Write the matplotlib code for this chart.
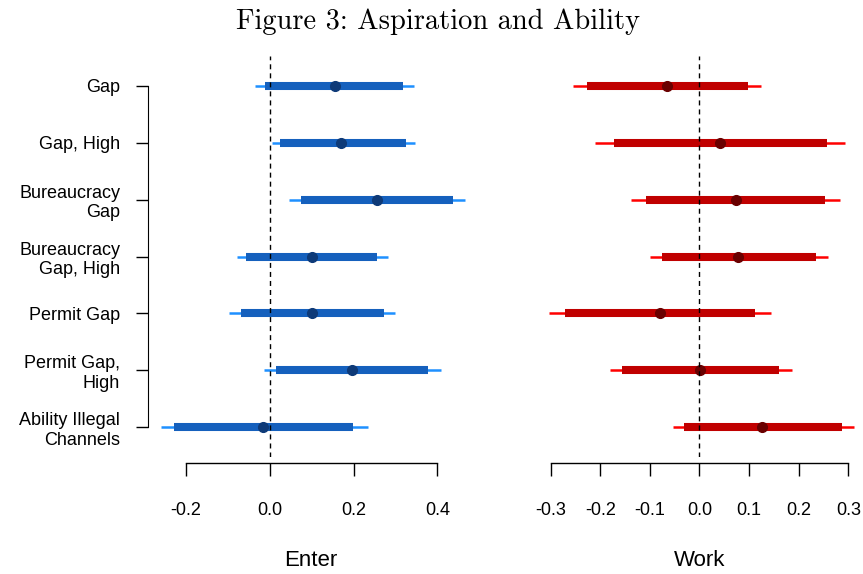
import matplotlib
matplotlib.use("Agg")
import matplotlib.pyplot as plt

# --- data ---
labels = ["Gap", "Gap, High", "Bureaucracy\nGap", "Bureaucracy\nGap, High",
          "Permit Gap", "Permit Gap,\nHigh", "Ability Illegal\nChannels"]

enter_est = [0.155, 0.171, 0.256, 0.100, 0.100, 0.196, -0.016]
enter_lo90 = [-0.012, 0.024, 0.074, -0.057, -0.069, 0.014, -0.229]
enter_hi90 = [0.317, 0.325, 0.438, 0.256, 0.272, 0.378, 0.199]
enter_lo95 = [-0.036, 0.004, 0.046, -0.079, -0.098, -0.015, -0.260]
enter_hi95 = [0.344, 0.347, 0.465, 0.282, 0.299, 0.408, 0.235]

work_est = [-0.066, 0.041, 0.073, 0.078, -0.079, 0.001, 0.126]
work_lo90 = [-0.227, -0.173, -0.108, -0.075, -0.271, -0.156, -0.031]
work_hi90 = [0.098, 0.258, 0.253, 0.234, 0.112, 0.161, 0.287]
work_lo95 = [-0.255, -0.210, -0.138, -0.100, -0.303, -0.180, -0.054]
work_hi95 = [0.125, 0.294, 0.283, 0.260, 0.144, 0.186, 0.311]

enter_ticks = [-0.2, 0.0, 0.2, 0.4]
work_ticks = [-0.3, -0.2, -0.1, 0.0, 0.1, 0.2, 0.3]

W, H = 863, 574
fig = plt.figure(figsize=(W / 100, H / 100), dpi=100)

SANS = ["Liberation Sans", "DejaVu Sans"]


def px_axes(x0, x1, y0, y1):
    return fig.add_axes([x0 / W, 1 - y1 / H, (x1 - x0) / W, (y1 - y0) / H])


def panel(ax, est, lo90, hi90, lo95, hi95, thin, thick, dot, xlim, ticks):
    rows = list(range(1, len(est) + 1))
    for r, e, a, b, c, d in zip(rows, est, lo90, hi90, lo95, hi95):
        ax.plot([c, d], [r, r], color=thin, lw=1.8, solid_capstyle="butt", zorder=2)
        ax.plot([a, b], [r, r], color=thick, lw=5.8, solid_capstyle="butt", zorder=3)
        ax.plot([e], [r], "o", color=dot, ms=7, mec=dot, zorder=4)
    ax.axvline(0, color="black", lw=1.0, ls=(0, (3.6, 2.9)), zorder=5)
    ax.set_xlim(*xlim)
    ax.set_ylim(7.53, 0.48)
    for s in ["top", "right"]:
        ax.spines[s].set_visible(False)
    ax.spines["bottom"].set_bounds(ticks[0], ticks[-1])
    ax.spines["bottom"].set_position(("outward", 4))
    ax.spines["bottom"].set_linewidth(1.0)
    ax.set_xticks(ticks)
    ax.set_xticklabels([f"{t:.1f}" for t in ticks], family=SANS, fontsize=13)
    ax.tick_params(axis="x", length=9.6, width=1.0, pad=18.5)
    ax.set_facecolor("none")
    return rows


ax1 = px_axes(148, 475, 56.4, 457.4)
rows = panel(ax1, enter_est, enter_lo90, enter_hi90, enter_lo95, enter_hi95,
             "#1E90FF", "#1560BD", "#0E3A78", (-0.291, 0.490), enter_ticks)
ax1.spines["left"].set_bounds(1, 7)
ax1.set_yticks(rows)
ax1.set_yticklabels(labels, family=SANS, fontsize=13, ha="right", multialignment="right")
ax1.tick_params(axis="y", length=8.6, width=1.0, pad=11.5)

ax2 = px_axes(545.7, 858.2, 56.4, 457.4)
panel(ax2, work_est, work_lo90, work_hi90, work_lo95, work_hi95,
      "#FF0000", "#C00000", "#6A0000", (-0.31, 0.32), work_ticks)
ax2.spines["left"].set_visible(False)
ax2.set_yticks([])

fig.text(311 / W, 1 - 561 / H, "Enter", family=SANS, fontsize=16,
         ha="center", va="center")
fig.text(699.5 / W, 1 - 561 / H, "Work", family=SANS, fontsize=16,
         ha="center", va="center")

fig.text(438 / W, 1 - 22 / H, "Figure 3: Aspiration and Ability",
         family=["cmr10", "DejaVu Serif"], fontsize=20.5, ha="center", va="center")

fig.savefig("out.png", dpi=100)
